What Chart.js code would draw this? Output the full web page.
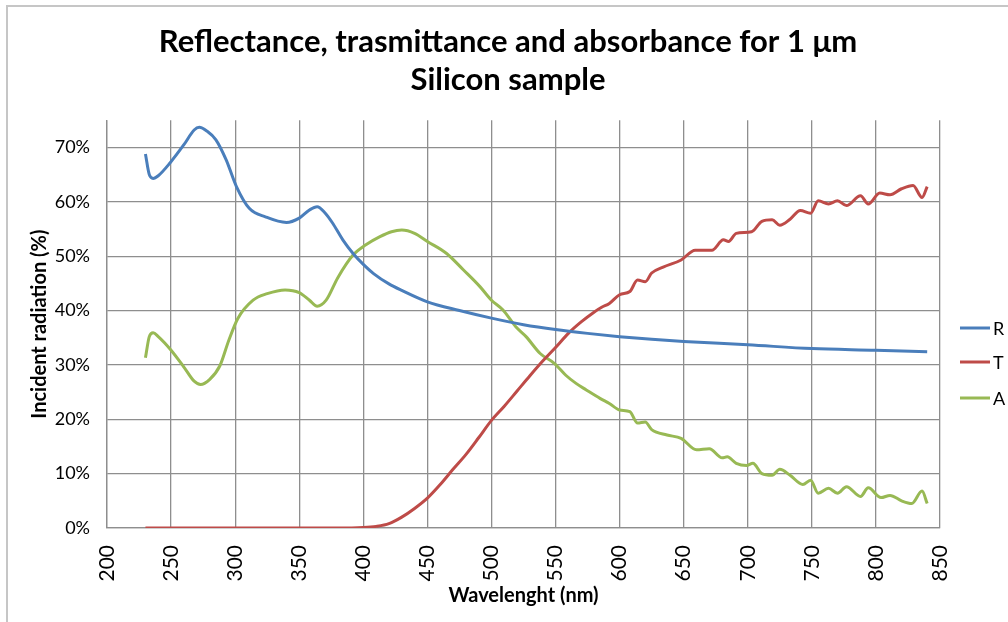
<!DOCTYPE html>
<html>
<head>
<meta charset="utf-8">
<script src="https://cdn.jsdelivr.net/npm/chart.js@4.4.1/dist/chart.umd.min.js"></script>
<style>
  html, body { margin: 0; padding: 0; background: #fff; overflow: hidden; }
  #frame { position: absolute; left: 6px; top: 5px; width: 1100px; height: 700px;
           border-left: 2px solid #c6c6c6; border-top: 2px solid #c6c6c6; }
  #wrap { position: absolute; left: 0; top: 0; width: 1008px; height: 622px; }
</style>
</head>
<body>
<div id="frame"></div>
<div id="wrap"><canvas id="chart" width="1008" height="622"></canvas></div>
<script>
// Reflectance (R)
const waveR = [230, 233, 236, 240, 249, 260, 268, 272, 278, 285, 293, 301, 311, 324, 340, 350, 358, 364, 370, 376,
  384, 392, 400, 408, 420, 430, 450, 475, 500, 525, 550, 575, 600, 625, 650, 700, 750, 800, 840];
const reflectance = [68.8, 65.0, 64.3, 64.8, 67.1, 70.5, 73.2, 73.7, 73.0, 71.4, 67.7, 62.8, 58.8, 57.2, 56.2, 57.0, 58.5, 59.1, 58.0, 56.1,
  53.0, 50.5, 48.5, 46.8, 44.9, 43.7, 41.6, 40.0, 38.6, 37.4, 36.5, 35.8, 35.2, 34.7, 34.3, 33.7, 33.0, 32.7, 32.4];

// Transmittance (T)
const waveT = [230, 300, 380, 400, 410, 420, 430, 440, 450, 460, 470, 480, 490, 500, 510, 520, 530, 540, 550, 560,
  570, 580, 586, 592, 600, 608, 614, 620, 625, 634, 648, 659, 672, 681, 685, 691, 703, 711, 719, 725,
  733, 741, 749, 755, 763, 770, 777, 788, 794, 803, 811, 820, 829, 836, 840];
const transmittance = [0, 0, 0, 0.1, 0.3, 0.8, 2.0, 3.6, 5.5, 8.0, 10.8, 13.5, 16.6, 19.8, 22.4, 25.2, 28.0, 30.7, 33.2, 35.8,
  37.9, 39.7, 40.6, 41.3, 42.9, 43.5, 45.6, 45.3, 46.9, 48.0, 49.3, 51.1, 51.1, 53.0, 52.7, 54.2, 54.5, 56.4, 56.7, 55.7,
  56.8, 58.4, 57.9, 60.2, 59.6, 60.2, 59.3, 61.1, 59.6, 61.6, 61.3, 62.4, 63.0, 60.8, 62.8];

// Absorbance (A)
const waveA = [230, 233, 236, 240, 250, 260, 268, 273, 280, 288, 295, 302, 314, 325, 339, 350, 358, 364, 371, 380,
  392, 402, 413, 422, 430, 440, 450, 465, 478, 491, 500, 509, 519, 527, 538, 549, 558, 566, 574, 585,
  592, 600, 608, 614, 620, 625, 637, 648, 660, 670, 680, 684, 691, 699, 704, 711, 719, 725, 733, 743,
  749, 755, 763, 770, 777, 788, 794, 804, 811, 820, 828, 836, 840];
const absorbance = [31.3, 35.2, 35.9, 35.2, 32.7, 29.6, 27.0, 26.4, 27.3, 29.8, 34.5, 38.5, 41.9, 43.1, 43.8, 43.3, 41.9, 40.8, 41.9, 46.0,
  50.2, 52.1, 53.6, 54.5, 54.8, 54.2, 52.7, 50.5, 47.5, 44.4, 41.9, 40.1, 37.0, 35.2, 32.1, 30.3, 28.1, 26.6, 25.4, 23.8,
  22.9, 21.7, 21.4, 19.3, 19.5, 18.1, 17.1, 16.5, 14.4, 14.6, 12.9, 13.1, 11.9, 11.5, 11.9, 10.0, 9.7, 10.8, 9.7, 8.0,
  8.8, 6.4, 7.3, 6.4, 7.6, 5.8, 7.4, 5.6, 6.0, 5.0, 4.5, 6.8, 4.5];

const seriesNames = ['R', 'T', 'A'];
const xTicks = [200, 250, 300, 350, 400, 450, 500, 550, 600, 650, 700, 750, 800, 850];
const yTicks = [0, 10, 20, 30, 40, 50, 60, 70];

const toPoints = (xs, ys) => xs.map((x, i) => ({ x: x, y: ys[i] }));

Chart.defaults.font.family = 'Lato, "Open Sans", sans-serif';
Chart.defaults.color = '#000';

const gridColor = '#8e8e8e';

// simple legend on the right, like the Excel one
const sideLegend = {
  id: 'sideLegend',
  afterDraw(chart) {
    const ctx = chart.ctx;
    const rows = [328, 362, 398];
    ctx.save();
    ctx.font = '18px Lato, "Open Sans", sans-serif';
    ctx.textBaseline = 'middle';
    chart.data.datasets.forEach((ds, i) => {
      ctx.strokeStyle = ds.borderColor;
      ctx.lineWidth = 3;
      ctx.beginPath();
      ctx.moveTo(960, rows[i]);
      ctx.lineTo(990, rows[i]);
      ctx.stroke();
      ctx.fillStyle = '#000';
      ctx.fillText(ds.label, 993, rows[i] + 1);
    });
    ctx.restore();
  }
};

const lineStyle = {
  borderWidth: 3,
  pointRadius: 0,
  cubicInterpolationMode: 'monotone',
  fill: false
};

new Chart(document.getElementById('chart').getContext('2d'), {
  type: 'line',
  data: {
    datasets: [
      { label: seriesNames[0], data: toPoints(waveR, reflectance), borderColor: '#4A7EBB', backgroundColor: '#4A7EBB', ...lineStyle },
      { label: seriesNames[1], data: toPoints(waveT, transmittance), borderColor: '#BE4B48', backgroundColor: '#BE4B48', ...lineStyle },
      { label: seriesNames[2], data: toPoints(waveA, absorbance), borderColor: '#98B954', backgroundColor: '#98B954', ...lineStyle }
    ]
  },
  options: {
    responsive: false,
    animation: false,
    layout: { padding: { left: 8, right: 0, top: 5, bottom: 0 } },
    plugins: {
      legend: { display: false },
      tooltip: { enabled: false },
      title: {
        display: true,
        text: ['Reflectance, trasmittance and absorbance for 1 \u03BCm', 'Silicon sample'],
        font: { size: 31, weight: 'bold', lineHeight: 1.23 },
        color: '#000',
        padding: { top: 18, bottom: 21 }
      }
    },
    scales: {
      x: {
        type: 'linear',
        min: 200,
        max: 850,
        afterBuildTicks: (s) => { s.ticks = xTicks.map(v => ({ value: v })); },
        afterFit: (s) => { s.height = 94; },
        ticks: { autoSkip: false, maxRotation: 90, minRotation: 90, padding: 17, font: { size: 21 } },
        grid: { color: gridColor, lineWidth: 1.3, drawTicks: false },
        border: { color: gridColor, width: 1.3 },
        title: { display: true, text: 'Wavelenght (nm)', font: { size: 20, weight: 'bold' }, padding: { top: 0, bottom: 14 } }
      },
      y: {
        min: 0,
        max: 75,
        afterBuildTicks: (s) => { s.ticks = yTicks.map(v => ({ value: v })); },
        afterFit: (s) => { s.width = 99; },
        ticks: { padding: 17, font: { size: 18 }, callback: (v) => v + '%' },
        grid: { color: gridColor, lineWidth: 1.3, drawTicks: false },
        border: { color: gridColor, width: 1.3 },
        title: { display: true, text: 'Incident radiation (%)', font: { size: 20, weight: 'bold' }, padding: { top: 20, bottom: 4 } }
      },
      // empty right-hand axis that only reserves room for the legend
      yRight: {
        position: 'right',
        min: 0,
        max: 75,
        afterFit: (s) => { s.width = 68; },
        ticks: { display: false },
        grid: { display: false, drawTicks: false },
        border: { display: false }
      }
    }
  },
  plugins: [sideLegend]
});
</script>
</body>
</html>
